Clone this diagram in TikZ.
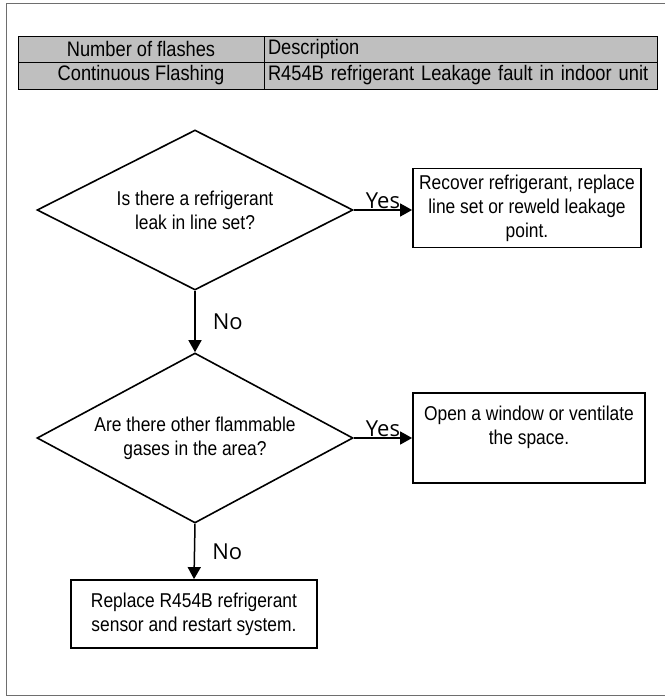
\documentclass[tikz,border=0pt]{standalone}
\usepackage{fontspec}
\usepackage{tikz}
\usetikzlibrary{shapes.geometric,arrows.meta,positioning,calc}
\newfontfamily\cndfamily[FakeStretch=0.87]{Liberation Sans}
\newfontfamily\lblfamily{Open Sans}
\newcommand\boxfont{\cndfamily\fontsize{20}{24}\selectfont}
\newcommand\tablefont{\cndfamily\fontsize{21}{24}\selectfont}
\newcommand\answerfont{\lblfamily\fontsize{22}{24}\selectfont}
\definecolor{tablegray}{RGB}{191,191,191}
\definecolor{framegray}{RGB}{110,110,110}

\begin{document}
\begin{tikzpicture}[x=1pt, y=-1pt,
    decision/.style={diamond, draw, line width=1.6pt, minimum width=316pt, inner sep=0pt, align=center, font=\boxfont},
    action/.style={rectangle, draw, line width=1.8pt, align=center, inner sep=0pt, font=\boxfont},
    cell/.style={rectangle, draw, fill=tablegray, line width=0.8pt, inner sep=0pt, font=\tablefont},
    arrow/.style={-{Triangle[length=12pt,width=13pt]}, line width=1.5pt},
    answer/.style={inner sep=1pt, font=\answerfont}
]
    \useasboundingbox (0,0) rectangle (664,696);
    \draw[framegray, line width=1pt] (670,3) -- (6,3) -- (6,695) -- (670,695);

    % table
    \node[cell, minimum width=246pt, minimum height=26pt] (head1) at (141,49) {Number of flashes};
    \node[cell, text width=385pt, inner xsep=4pt, minimum height=26pt, align=left] (head2) at (460.5,49) {Description};
    \node[cell, minimum width=246pt, minimum height=27pt] (row1) at (141,75.5) {Continuous Flashing};
    \node[cell, text width=385pt, inner xsep=4pt, minimum height=27pt, align=left] (row2) at (460.5,75.5) {R454B refrigerant Leakage fault in indoor unit};

    % flow chart
    \node[decision, aspect=1.975, minimum height=160pt] (leak) at (195,210) {Is there a refrigerant\\leak in line set?};
    \node[action, minimum width=228pt, minimum height=79pt] (recover) at (527,208) {Recover refrigerant, replace\\line set or reweld leakage\\point.};
    \node[decision, aspect=1.86, minimum height=170pt] (gases) at (195,438) {Are there other flammable\\gases in the area?};
    \node[action, minimum width=232pt, minimum height=90pt, text depth=26pt] (window) at (529,438) {Open a window or ventilate\\the space.};
    \node[action, minimum width=246pt, minimum height=68pt] (sensor) at (194,614) {Replace R454B refrigerant\\sensor and restart system.};

    \draw[arrow] (leak.east) -- node[answer, above] {Yes} (recover.west |- leak.east);
    \draw[arrow] (leak.south) -- node[answer, right, xshift=16pt] {No} (gases.north);
    \draw[arrow] (gases.east) -- node[answer, above] {Yes} (window.west |- gases.east);
    \draw[arrow] (gases.south) -- node[answer, right, xshift=16pt] {No} (sensor.north);
\end{tikzpicture}
\end{document}
